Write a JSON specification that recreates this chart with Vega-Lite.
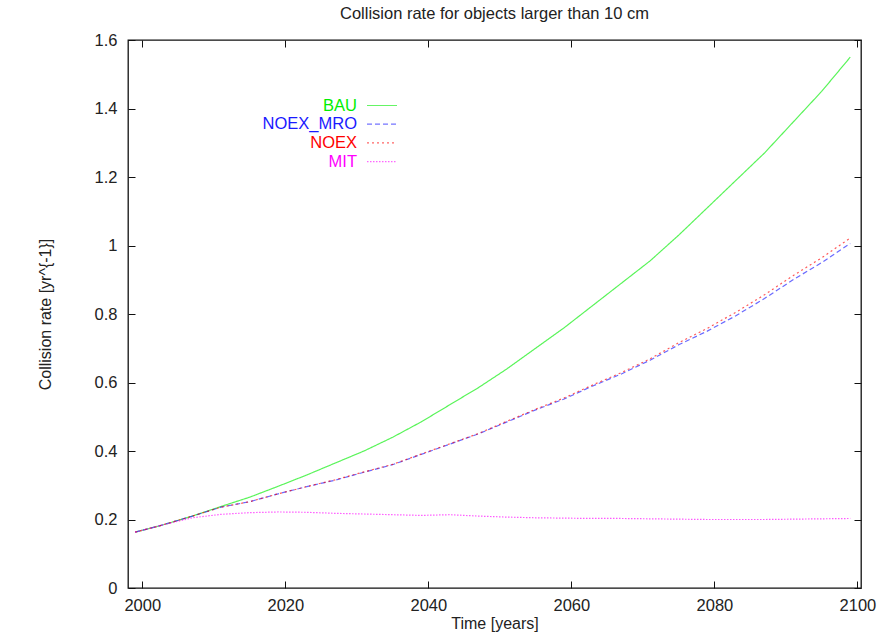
{
  "$schema": "https://vega.github.io/schema/vega-lite/v6.json",
  "width": 733,
  "height": 548,
  "autosize": "none",
  "padding": {"left": 128, "top": 40, "right": 30, "bottom": 56},
  "background": "white",
  "title": {"text": "Collision rate for objects larger than 10 cm", "fontSize": 16.5, "fontWeight": "normal", "font": "Liberation Sans", "anchor": "middle", "offset": 10, "color": "#222"},
  "config": {
    "view": {"stroke": "#111", "strokeWidth": 1.3},
    "font": "Liberation Sans"
  },
  "data": {"values": [
    {"year": 1999, "series": "BAU", "rate": 0.163}, {"year": 2003, "series": "BAU", "rate": 0.185}, {"year": 2007, "series": "BAU", "rate": 0.21}, {"year": 2011, "series": "BAU", "rate": 0.238}, {"year": 2015, "series": "BAU", "rate": 0.265}, {"year": 2019, "series": "BAU", "rate": 0.297}, {"year": 2023, "series": "BAU", "rate": 0.33}, {"year": 2027, "series": "BAU", "rate": 0.365}, {"year": 2031, "series": "BAU", "rate": 0.4}, {"year": 2035, "series": "BAU", "rate": 0.44}, {"year": 2039, "series": "BAU", "rate": 0.485}, {"year": 2043, "series": "BAU", "rate": 0.535}, {"year": 2047, "series": "BAU", "rate": 0.585}, {"year": 2051, "series": "BAU", "rate": 0.64}, {"year": 2055, "series": "BAU", "rate": 0.7}, {"year": 2059, "series": "BAU", "rate": 0.76}, {"year": 2063, "series": "BAU", "rate": 0.825}, {"year": 2067, "series": "BAU", "rate": 0.89}, {"year": 2071, "series": "BAU", "rate": 0.955}, {"year": 2075, "series": "BAU", "rate": 1.03}, {"year": 2079, "series": "BAU", "rate": 1.11}, {"year": 2083, "series": "BAU", "rate": 1.19}, {"year": 2087, "series": "BAU", "rate": 1.27}, {"year": 2091, "series": "BAU", "rate": 1.36}, {"year": 2095, "series": "BAU", "rate": 1.45}, {"year": 2099, "series": "BAU", "rate": 1.55},
    {"year": 1999, "series": "NOEX_MRO", "rate": 0.163}, {"year": 2003, "series": "NOEX_MRO", "rate": 0.185}, {"year": 2007, "series": "NOEX_MRO", "rate": 0.21}, {"year": 2011, "series": "NOEX_MRO", "rate": 0.236}, {"year": 2015, "series": "NOEX_MRO", "rate": 0.252}, {"year": 2019, "series": "NOEX_MRO", "rate": 0.275}, {"year": 2023, "series": "NOEX_MRO", "rate": 0.296}, {"year": 2027, "series": "NOEX_MRO", "rate": 0.315}, {"year": 2031, "series": "NOEX_MRO", "rate": 0.338}, {"year": 2035, "series": "NOEX_MRO", "rate": 0.36}, {"year": 2039, "series": "NOEX_MRO", "rate": 0.39}, {"year": 2043, "series": "NOEX_MRO", "rate": 0.42}, {"year": 2047, "series": "NOEX_MRO", "rate": 0.45}, {"year": 2051, "series": "NOEX_MRO", "rate": 0.485}, {"year": 2055, "series": "NOEX_MRO", "rate": 0.52}, {"year": 2059, "series": "NOEX_MRO", "rate": 0.552}, {"year": 2063, "series": "NOEX_MRO", "rate": 0.59}, {"year": 2067, "series": "NOEX_MRO", "rate": 0.625}, {"year": 2071, "series": "NOEX_MRO", "rate": 0.665}, {"year": 2075, "series": "NOEX_MRO", "rate": 0.71}, {"year": 2079, "series": "NOEX_MRO", "rate": 0.75}, {"year": 2083, "series": "NOEX_MRO", "rate": 0.795}, {"year": 2087, "series": "NOEX_MRO", "rate": 0.845}, {"year": 2091, "series": "NOEX_MRO", "rate": 0.9}, {"year": 2095, "series": "NOEX_MRO", "rate": 0.95}, {"year": 2099, "series": "NOEX_MRO", "rate": 1.006},
    {"year": 1999, "series": "NOEX", "rate": 0.163}, {"year": 2003, "series": "NOEX", "rate": 0.185}, {"year": 2007, "series": "NOEX", "rate": 0.21}, {"year": 2011, "series": "NOEX", "rate": 0.236}, {"year": 2015, "series": "NOEX", "rate": 0.252}, {"year": 2019, "series": "NOEX", "rate": 0.275}, {"year": 2023, "series": "NOEX", "rate": 0.296}, {"year": 2027, "series": "NOEX", "rate": 0.316}, {"year": 2031, "series": "NOEX", "rate": 0.339}, {"year": 2035, "series": "NOEX", "rate": 0.361}, {"year": 2039, "series": "NOEX", "rate": 0.391}, {"year": 2043, "series": "NOEX", "rate": 0.421}, {"year": 2047, "series": "NOEX", "rate": 0.451}, {"year": 2051, "series": "NOEX", "rate": 0.487}, {"year": 2055, "series": "NOEX", "rate": 0.522}, {"year": 2059, "series": "NOEX", "rate": 0.555}, {"year": 2063, "series": "NOEX", "rate": 0.593}, {"year": 2067, "series": "NOEX", "rate": 0.629}, {"year": 2071, "series": "NOEX", "rate": 0.669}, {"year": 2075, "series": "NOEX", "rate": 0.716}, {"year": 2079, "series": "NOEX", "rate": 0.758}, {"year": 2083, "series": "NOEX", "rate": 0.805}, {"year": 2087, "series": "NOEX", "rate": 0.856}, {"year": 2091, "series": "NOEX", "rate": 0.912}, {"year": 2095, "series": "NOEX", "rate": 0.964}, {"year": 2099, "series": "NOEX", "rate": 1.022},
    {"year": 1999, "series": "MIT", "rate": 0.163}, {"year": 2003, "series": "MIT", "rate": 0.185}, {"year": 2007, "series": "MIT", "rate": 0.205}, {"year": 2011, "series": "MIT", "rate": 0.215}, {"year": 2015, "series": "MIT", "rate": 0.22}, {"year": 2019, "series": "MIT", "rate": 0.222}, {"year": 2023, "series": "MIT", "rate": 0.221}, {"year": 2027, "series": "MIT", "rate": 0.218}, {"year": 2031, "series": "MIT", "rate": 0.216}, {"year": 2035, "series": "MIT", "rate": 0.214}, {"year": 2039, "series": "MIT", "rate": 0.212}, {"year": 2043, "series": "MIT", "rate": 0.214}, {"year": 2047, "series": "MIT", "rate": 0.21}, {"year": 2051, "series": "MIT", "rate": 0.207}, {"year": 2055, "series": "MIT", "rate": 0.205}, {"year": 2059, "series": "MIT", "rate": 0.204}, {"year": 2063, "series": "MIT", "rate": 0.203}, {"year": 2067, "series": "MIT", "rate": 0.203}, {"year": 2071, "series": "MIT", "rate": 0.202}, {"year": 2075, "series": "MIT", "rate": 0.201}, {"year": 2079, "series": "MIT", "rate": 0.2}, {"year": 2083, "series": "MIT", "rate": 0.2}, {"year": 2087, "series": "MIT", "rate": 0.2}, {"year": 2091, "series": "MIT", "rate": 0.201}, {"year": 2095, "series": "MIT", "rate": 0.202}, {"year": 2099, "series": "MIT", "rate": 0.203}
  ]},
  "layer": [
    {
      "mark": {"type": "line", "strokeWidth": 1.2, "opacity": 0.65},
      "encoding": {
        "x": {"field": "year", "type": "quantitative", "scale": {"domain": [1998, 2100.5], "nice": false, "zero": false},
          "axis": {"orient": "bottom", "values": [2000, 2020, 2040, 2060, 2080, 2100], "format": "d", "tickSize": -7, "tickColor": "#111", "labelPadding": 16, "domain": false, "grid": false, "title": "Time [years]", "titleFontSize": 16, "titleFontWeight": "normal", "titleColor": "#222", "titlePadding": 2, "labelFontSize": 16.5, "labelColor": "#222", "labelFont": "Liberation Sans", "titleFont": "Liberation Sans"}},
        "y": {"field": "rate", "type": "quantitative", "scale": {"domain": [0, 1.6], "nice": false},
          "axis": {"orient": "left", "values": [0, 0.2, 0.4, 0.6, 0.8, 1, 1.2, 1.4, 1.6], "format": "~g", "tickSize": -7, "tickColor": "#111", "labelPadding": 18, "domain": false, "grid": false, "title": "Collision rate [yr^{-1}]", "titleFontSize": 16, "titleFontWeight": "normal", "titleColor": "#222", "titlePadding": 41, "labelFontSize": 16.5, "labelColor": "#222", "labelFont": "Liberation Sans", "titleFont": "Liberation Sans"}},
        "color": {"field": "series", "type": "nominal", "sort": ["BAU", "NOEX_MRO", "NOEX", "MIT"],
          "scale": {"domain": ["BAU", "NOEX_MRO", "NOEX", "MIT"], "range": ["#00ee00", "#1a1aff", "#ff0000", "#ff00ff"]},
          "legend": {"orient": "none", "legendX": 245, "legendY": 56.5, "title": null, "symbolType": "M-1.875,0H1.875", "symbolSize": 256, "symbolStrokeWidth": 1.2, "symbolOpacity": 0.6, "labelFontSize": 16.5, "labelFont": "Liberation Sans", "rowPadding": 0.7,
            "encode": {
              "labels": {"update": {"fill": {"scale": "color", "field": "value"}, "align": {"value": "right"}, "x": {"value": -16}}}
            }}},
        "strokeDash": {"field": "series", "type": "nominal", "sort": ["BAU", "NOEX_MRO", "NOEX", "MIT"],
          "scale": {"domain": ["BAU", "NOEX_MRO", "NOEX", "MIT"], "range": [[1, 0], [5, 3], [2, 3], [1.5, 1.5]]}},
        "order": {"field": "year", "type": "quantitative"}
      }
    },
    {
      "mark": {"type": "point", "opacity": 0},
      "encoding": {
        "x": {"field": "year", "type": "quantitative", "axis": {"orient": "top", "values": [2000, 2020, 2040, 2060, 2080, 2100], "tickSize": -7, "tickColor": "#111", "labels": false, "domain": false, "grid": false, "title": null}},
        "y": {"field": "rate", "type": "quantitative", "axis": {"orient": "right", "values": [0, 0.2, 0.4, 0.6, 0.8, 1, 1.2, 1.4, 1.6], "tickSize": -7, "tickColor": "#111", "labels": false, "domain": false, "grid": false, "title": null}}
      }
    }
  ],
  "resolve": {"axis": {"x": "independent", "y": "independent"}}
}
